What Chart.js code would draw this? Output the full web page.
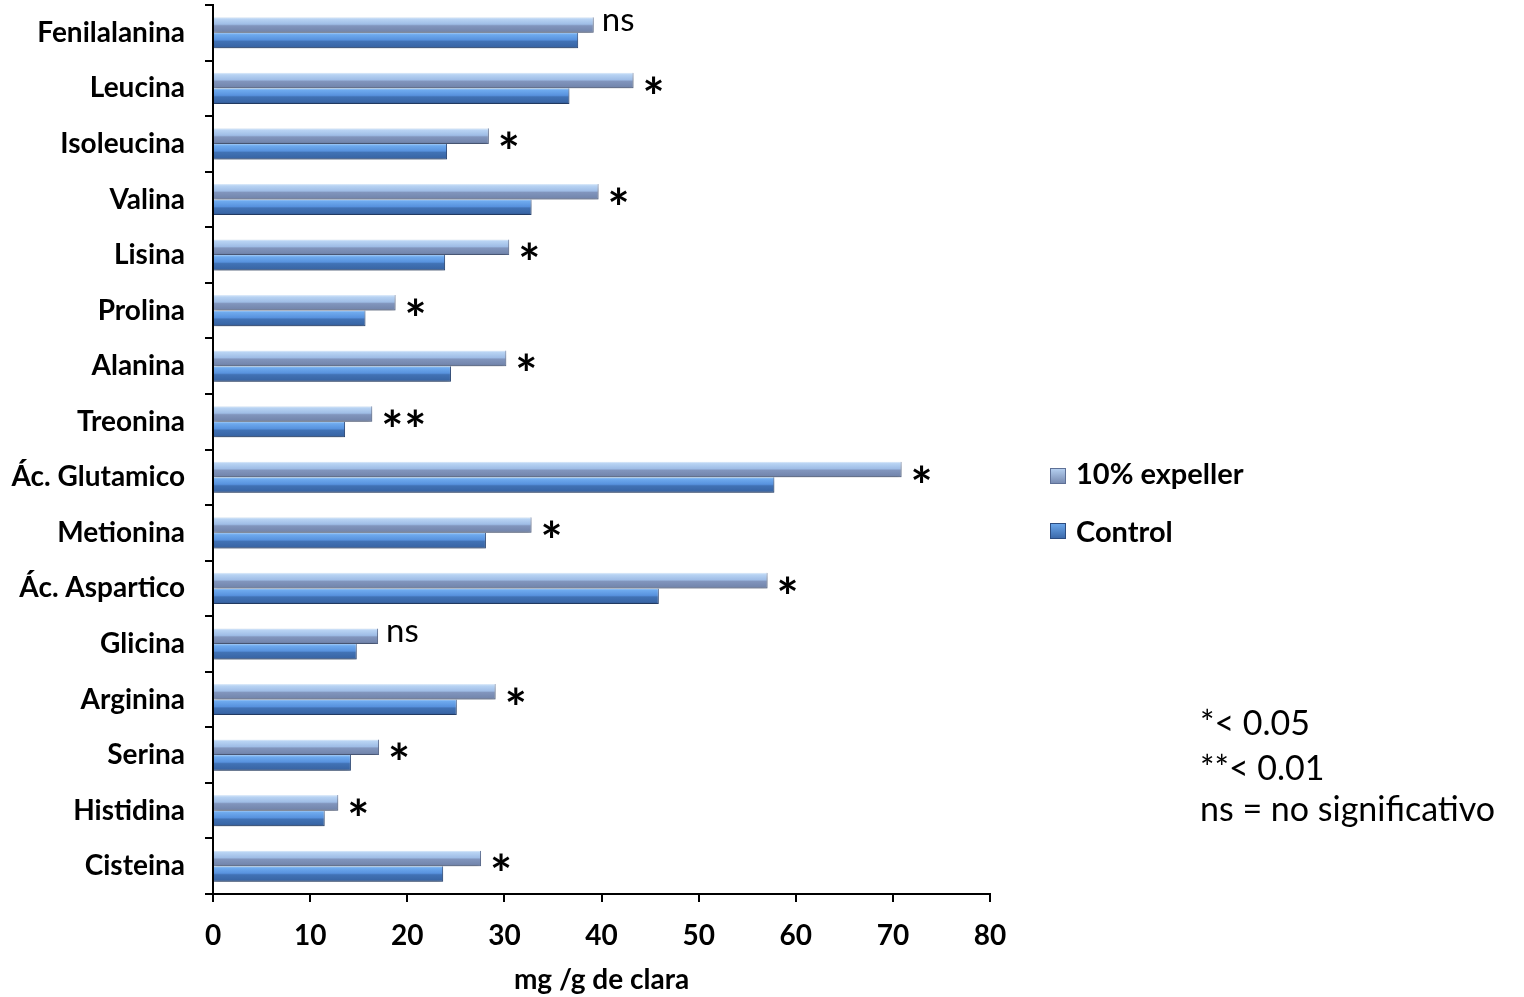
<!DOCTYPE html>
<html>
<head>
<meta charset="utf-8">
<script src="https://cdn.jsdelivr.net/npm/chart.js@4/dist/chart.umd.min.js"></script>
<style>
  body { margin: 0; background: #fff; }
  #wrap { width: 1524px; height: 997px; }
</style>
</head>
<body>
<div id="wrap"><canvas id="myChart" width="1524" height="997"></canvas></div>
<script>
// amino acids, top to bottom
const labels = ['Fenilalanina', 'Leucina', 'Isoleucina', 'Valina', 'Lisina', 'Prolina', 'Alanina', 'Treonina',
  'Ác. Glutamico', 'Metionina', 'Ác. Aspartico', 'Glicina', 'Arginina', 'Serina', 'Histidina', 'Cisteina']
// mg / g de clara
const expeller = [39.2, 43.3, 28.4, 39.7, 30.5, 18.8, 30.2, 16.4, 70.9, 32.8, 57.1, 17.0, 29.1, 17.1, 12.9, 27.6]
const control = [37.6, 36.7, 24.1, 32.8, 23.9, 15.7, 24.5, 13.6, 57.8, 28.1, 45.9, 14.8, 25.1, 14.2, 11.5, 23.7]
const signif = ['ns', '*', '*', '*', '*', '*', '*', '**', '*', '*', '*', 'ns', '*', '*', '*', '*']
const notes = ['*< 0.05', '**< 0.01', 'ns = no significativo']
const xTicks = [0, 10, 20, 30, 40, 50, 60, 70, 80]

const FONT = 'Lato'
const catPct = 0.56

const expStops = [[0, '#e2eefb'], [0.12, '#b8d3f3'], [0.45, '#9fbde6'], [0.55, '#8195bd'], [0.88, '#7487ae'], [1, '#5e7096']]
const ctlStops = [[0, '#a4cbf6'], [0.12, '#6eaaee'], [0.45, '#5892de'], [0.55, '#4172b5'], [0.88, '#3966a6'], [1, '#2c4c80']]

function barFill(stops, fallback) {
  return function (c) {
    const chart = c.chart
    if (!chart.chartArea || c.type !== 'data') return fallback
    const y = chart.scales.y
    const center = y.getPixelForValue(c.dataIndex)
    const h = (y.height / labels.length) * catPct / 2
    const top = c.datasetIndex === 0 ? center - h : center
    const g = chart.ctx.createLinearGradient(0, top, 0, top + h)
    stops.forEach(s => g.addColorStop(s[0], s[1]))
    return g
  }
}

function drawCentered(ctx, text, x, cy) {
  const m = ctx.measureText(text)
  ctx.textBaseline = 'alphabetic'
  ctx.fillText(text, x, cy + (m.actualBoundingBoxAscent - m.actualBoundingBoxDescent) / 2)
}

const extras = {
  id: 'extras',
  beforeDatasetsDraw(chart) {
    const ctx = chart.ctx
    ctx.save()
    ctx.shadowColor = 'rgba(0,0,0,0.3)'
    ctx.shadowBlur = 5
    ctx.shadowOffsetY = 3
  },
  afterDatasetsDraw(chart) {
    const ctx = chart.ctx
    ctx.restore()
    ctx.save()
    ctx.fillStyle = '#000'
    ctx.textAlign = 'left'
    chart.getDatasetMeta(0).data.forEach((bar, i) => {
      const s = signif[i]
      if (s === 'ns') {
        ctx.font = '33px ' + FONT
        drawCentered(ctx, s, bar.x + 8, bar.y - 3)
      } else {
        ctx.font = 'bold 52px ' + FONT
        if (s === '**') {
          drawCentered(ctx, '*', bar.x + 9, bar.y + 4)
          drawCentered(ctx, '*', bar.x + 32, bar.y + 4)
        } else {
          drawCentered(ctx, s, bar.x + 9, bar.y + 4)
        }
      }
    })

    // legend
    const legendRows = [[chart.data.datasets[0].label, expStops, 476], [chart.data.datasets[1].label, ctlStops, 531]]
    legendRows.forEach(r => {
      const g = ctx.createLinearGradient(0, r[2] - 8, 0, r[2] + 8)
      g.addColorStop(0, r[1][1][1])
      g.addColorStop(1, r[1][4][1])
      ctx.fillStyle = g
      ctx.fillRect(1050, r[2] - 8, 16, 16)
      ctx.strokeStyle = r[1][5][1]
      ctx.lineWidth = 1
      ctx.strokeRect(1050.5, r[2] - 7.5, 15, 15)
      ctx.fillStyle = '#000'
      ctx.font = 'bold 29px ' + FONT
      drawCentered(ctx, r[0], 1076, r[2])
    })

    // significance note
    ctx.font = '34px ' + FONT
    notes.forEach((t, i) => drawCentered(ctx, t, 1200, 721 + i * 45))
    ctx.restore()
  }
}

const ctx = document.getElementById('myChart').getContext('2d')
const myChart = new Chart(ctx, {
  type: 'bar',
  data: {
    labels: labels,
    datasets: [
      {
        label: '10% expeller',
        data: expeller,
        backgroundColor: barFill(expStops, '#8fabd6'),
        borderColor: '#5e7096',
        borderWidth: { top: 0, right: 1, bottom: 1, left: 0 },
        borderSkipped: false
      },
      {
        label: 'Control',
        data: control,
        backgroundColor: barFill(ctlStops, '#4a80c6'),
        borderColor: '#2c4c80',
        borderWidth: { top: 0, right: 1, bottom: 1, left: 0 },
        borderSkipped: false
      }
    ]
  },
  options: {
    indexAxis: 'y',
    responsive: false,
    animation: false,
    devicePixelRatio: 1,
    datasets: { bar: { categoryPercentage: catPct, barPercentage: 1 } },
    layout: { padding: { left: 0, top: 5, right: 534, bottom: 0 } },
    plugins: {
      legend: { display: false },
      tooltip: { enabled: false }
    },
    scales: {
      y: {
        afterFit: s => { s.width = 213; s.paddingTop = 0; s.paddingBottom = 0 },
        grid: { drawOnChartArea: false, color: '#000', lineWidth: 2, tickLength: 8, offset: true },
        border: { color: '#000', width: 2 },
        ticks: { color: '#000', padding: 20, font: { family: FONT, size: 28, weight: 'bold' } }
      },
      x: {
        min: 0,
        max: 80,
        afterFit: s => { s.height = 103 },
        afterBuildTicks: s => { s.ticks = xTicks.map(v => ({ value: v })) },
        grid: { drawOnChartArea: false, color: '#000', lineWidth: 2, tickLength: 8 },
        border: { color: '#000', width: 2 },
        ticks: { color: '#000', padding: 17, maxRotation: 0, font: { family: FONT, size: 28, weight: 'bold' } },
        title: {
          display: true,
          text: 'mg /g de clara',
          color: '#000',
          padding: { top: 0, bottom: 0 },
          font: { family: FONT, size: 28, weight: 'bold' }
        }
      }
    }
  },
  plugins: [extras]
})
</script>
</body>
</html>
